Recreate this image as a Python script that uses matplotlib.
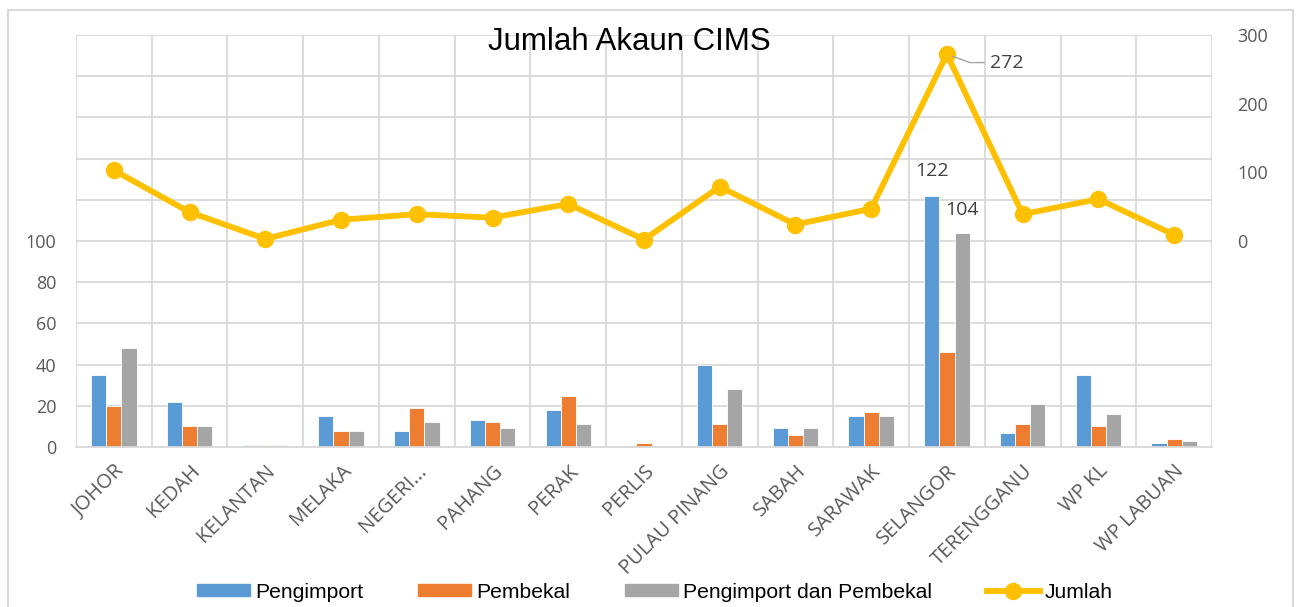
import matplotlib
matplotlib.use("Agg")
import matplotlib.pyplot as plt
import numpy as np
from matplotlib.patches import Rectangle
from matplotlib.lines import Line2D
from matplotlib.patches import Patch

categories = ["JOHOR", "KEDAH", "KELANTAN", "MELAKA", "NEGERI...", "PAHANG", "PERAK",
              "PERLIS", "PULAU PINANG", "SABAH", "SARAWAK", "SELANGOR", "TERENGGANU",
              "WP KL", "WP LABUAN"]
pengimport = [35, 22, 1, 15, 8, 13, 18, 0, 40, 9, 15, 122, 7, 35, 2]
pembekal = [20, 10, 1, 8, 19, 12, 25, 2, 11, 6, 17, 46, 11, 10, 4]
keduanya = [48, 10, 1, 8, 12, 9, 11, 0, 28, 9, 15, 104, 21, 16, 3]
jumlah = [103, 42, 3, 31, 39, 34, 54, 2, 79, 24, 47, 272, 39, 61, 9]

c_blue = "#5B9BD5"
c_orange = "#ED7D31"
c_gray = "#A5A5A5"
c_yellow = "#FFC000"
grid_c = "#D9D9D9"
txt_c = "#595959"
tick_font = "Open Sans"

fig = plt.figure(figsize=(12.96, 6.07), dpi=100)
ax = fig.add_axes([76/1296, 1-447/607, (1212-76)/1296, (447-35)/607])

x = np.arange(len(categories))
w = 0.2
ax.bar(x - w, pengimport, w, color=c_blue, edgecolor="white", linewidth=0.6, zorder=2)
ax.bar(x, pembekal, w, color=c_orange, edgecolor="white", linewidth=0.6, zorder=2)
ax.bar(x + w, keduanya, w, color=c_gray, edgecolor="white", linewidth=0.6, zorder=2)

ax.set_xlim(-0.5, len(categories) - 0.5)
ax.set_ylim(0, 200)
ax.set_yticks(np.arange(0, 201, 20))
ax.set_yticklabels([str(v) if v <= 100 else "" for v in range(0, 201, 20)],
                   fontsize=13, color=txt_c, family=tick_font)
ax.grid(axis="y", color=grid_c, linewidth=1.3, zorder=0)
ax.set_xticks(x)
ax.set_xticklabels(categories, rotation=45, ha="right", rotation_mode="anchor",
                   fontsize=14.5, color=txt_c, family=tick_font)
ax.set_xticks(np.arange(-0.5, len(categories), 1), minor=True)
ax.grid(axis="x", which="minor", color=grid_c, linewidth=1.3, zorder=0)
ax.tick_params(axis="x", which="both", length=0, pad=10)
ax.tick_params(axis="y", length=0, pad=14)
for s in ["top", "left", "right"]:
    ax.spines[s].set_visible(False)
ax.spines["bottom"].set_color(grid_c)
ax.spines["bottom"].set_linewidth(1.3)
ax.set_axisbelow(True)

# data labels on SELANGOR bars
ax.annotate(str(pengimport[11]), (x[11] - w, pengimport[11]), xytext=(0, 11),
            textcoords="offset points", ha="center", va="bottom", fontsize=14,
            color="#404040", family=tick_font)
ax.annotate(str(keduanya[11]), (x[11] + w, keduanya[11]), xytext=(0, 10),
            textcoords="offset points", ha="center", va="bottom", fontsize=14,
            color="#404040", family=tick_font)

ax2 = ax.twinx()
ax2.plot(x, jumlah, color=c_yellow, linewidth=4.2, marker="o", markersize=11.5, zorder=3)
ax2.set_ylim(-300, 300)
ax2.set_yticks([0, 100, 200, 300])
ax2.set_yticklabels(["0", "100", "200", "300"], fontsize=13, color=txt_c, family=tick_font)
ax2.tick_params(axis="y", length=0, pad=18)
for s in ax2.spines.values():
    s.set_visible(False)
ax2.annotate(str(jumlah[11]), (x[11], jumlah[11]), xytext=(31, -6),
             textcoords="offset points", ha="left", va="center", fontsize=14,
             color="#404040", family=tick_font,
             arrowprops=dict(arrowstyle="-", color="#A5A5A5", lw=1,
                             connectionstyle="angle,angleA=0,angleB=-20,rad=0",
                             shrinkA=2, shrinkB=4))

fig.text(629/1296, 1-42/607, "Jumlah Akaun CIMS", ha="center", va="center",
         fontsize=22.5, family="Liberation Sans", color="black")

handles = [Patch(color=c_blue), Patch(color=c_orange), Patch(color=c_gray),
           Line2D([0], [0], color=c_yellow, lw=4.2, marker="o", markersize=11.5)]
labels = ["Pengimport", "Pembekal", "Pengimport dan Pembekal", "Jumlah"]
leg = fig.legend(handles, labels, loc="center", bbox_to_anchor=(655/1296, 1-592/607),
                 ncol=4, frameon=False, handlelength=2.5, handleheight=0.47,
                 handletextpad=0.25, columnspacing=2.6, borderaxespad=0, borderpad=0,
                 prop={"family": "Liberation Sans", "size": 15.2})

fig.patches.append(Rectangle((8/1296, -0.01), (1293-8)/1296, 1-10/607 + 0.01,
                             transform=fig.transFigure, fill=False,
                             edgecolor=grid_c, linewidth=1.5))

fig.savefig("out.png", dpi=100)
